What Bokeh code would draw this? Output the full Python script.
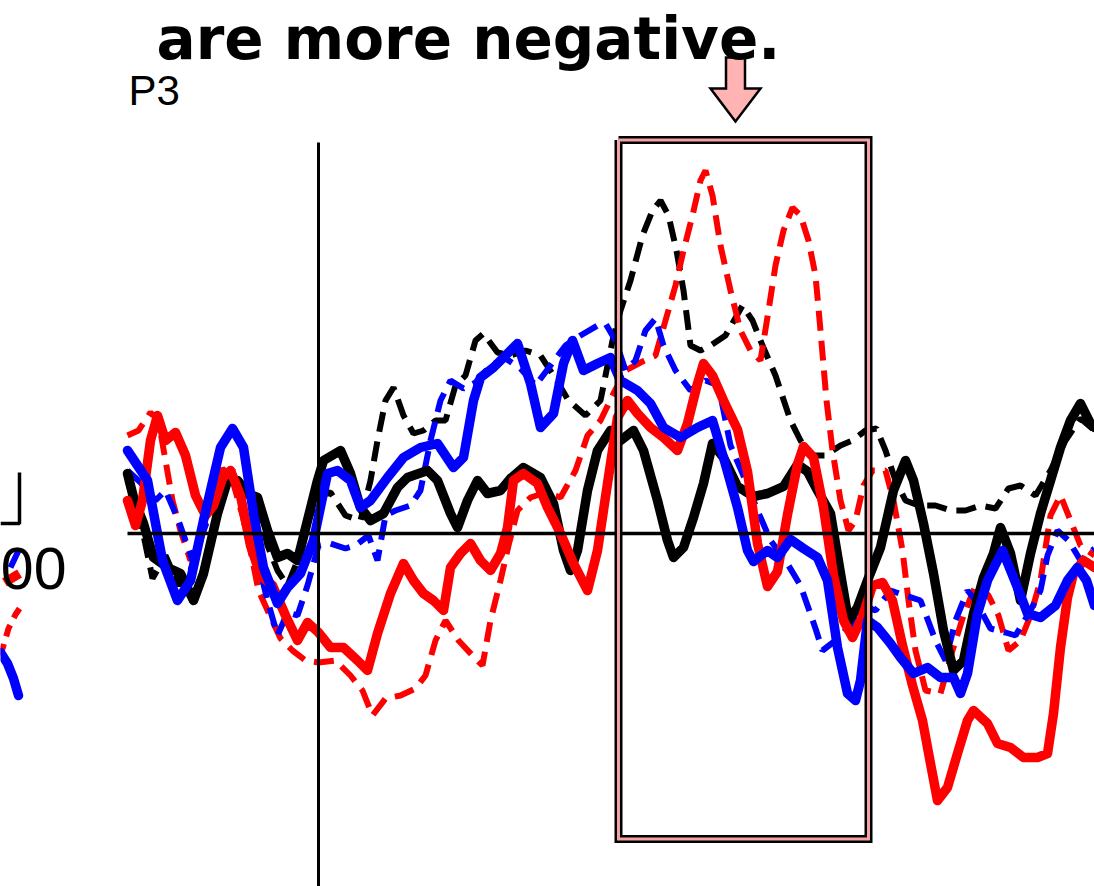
from bokeh.plotting import figure
from bokeh.models import Range1d, Label
from bokeh.embed import file_html
from bokeh.resources import INLINE

# ---------------------------------------------------------------
# Grand-average ERP at electrode P3, time in ms, amplitude in µV
# (negative is plotted upward)
# ---------------------------------------------------------------
t_black_solid = [-191, -185, -175, -165, -151, -138, -125, -115, -101, -91, -81, -71, -61, -51, -41, -31,
                 -21, -11, -1, 5, 22, 32, 42, 52, 65, 79, 89, 109, 119, 132, 139, 149, 159, 169, 182, 192,
                 205, 222, 235, 245, 252, 259, 269, 279, 292, 302, 315, 325, 339, 349, 355, 365, 375, 385,
                 394, 405, 419, 435, 449, 465, 479, 489, 499, 512, 522, 530, 539, 549, 562, 575, 587, 595,
                 605, 615, 625, 635, 645, 655, 665, 675, 682, 692, 702, 712, 722, 732, 742, 752, 762, 772, 776]
uv_black_solid = [-1.20, -0.72, -0.20, 0.48, 0.68, 0.80, 1.34, 0.80, -0.40, -1.06, -1.06, -0.80, -0.72, -0.06,
                  0.48, 0.40, 0.54, -0.26, -1.06, -1.46, -1.66, -1.20, -0.52, -0.26, -0.40, -0.92, -1.12,
                  -1.26, -1.06, -0.40, -0.12, -0.66, -1.06, -0.80, -0.86, -1.10, -1.32, -1.12, -0.60, 0.34,
                  0.74, 0.34, -0.86, -1.66, -2.06, -1.86, -2.06, -1.66, -0.66, 0.14, 0.48, 0.28, -0.32, -1.00,
                  -1.80, -1.52, -0.94, -0.74, -0.80, -0.94, -1.38, -1.24, -0.86, -0.40, 0.80, 1.74, 1.48, 0.94,
                  0.28, -0.86, -1.46, -1.06, -0.20, 0.80, 1.94, 2.74, 2.54, 1.60, 0.88, 0.40, -0.12, 0.40, 1.34,
                  0.40, -0.40, -1.06, -1.72, -2.26, -2.60, -2.20, -2.12]

t_black_dash = [-191, -178, -166, -153, -140, -128, -113, -98, -86, -73, -61, -51, -41, -31, -21, -10, 0, 12,
                27, 42, 52, 59, 67, 75, 85, 95, 105, 117, 127, 137, 147, 157, 165, 179, 192, 207, 222, 237,
                250, 267, 282, 294, 302, 312, 324, 334, 342, 350, 358, 365, 372, 382, 392, 407, 424, 434, 444,
                457, 472, 482, 492, 507, 522, 534, 547, 558, 567, 577, 587, 600, 617, 632, 647, 662, 677, 690,
                702, 717, 732, 747, 762, 776]
uv_black_dash = [-1.06, -0.26, 0.90, 0.44, 1.04, 0.74, -0.26, -0.76, -1.26, -0.80, -0.56, 0.24, 0.74, 1.04,
                 0.54, -0.26, -0.76, -0.82, -0.36, -0.26, -1.06, -1.86, -2.66, -2.92, -2.36, -2.00, -2.06,
                 -2.26, -2.26, -2.96, -3.16, -3.86, -4.00, -3.62, -3.56, -3.66, -3.56, -3.10, -2.66, -2.36,
                 -2.66, -3.86, -4.46, -5.06, -5.96, -6.46, -6.66, -6.36, -5.66, -4.86, -3.76, -3.66, -3.76,
                 -3.96, -4.56, -4.26, -3.76, -3.16, -2.26, -1.86, -1.56, -1.56, -1.76, -1.86, -2.06, -2.10,
                 -1.66, -1.06, -0.66, -0.56, -0.56, -0.46, -0.46, -0.56, -0.50, -0.90, -0.96, -0.76, -1.26,
                 -1.86, -2.30, -2.06]

t_red_solid = [-191, -183, -176, -168, -161, -153, -143, -133, -123, -113, -105, -96, -88, -78, -68, -58, -46,
               -33, -21, -11, 0, 12, 25, 39, 49, 59, 72, 85, 95, 105, 115, 125, 132, 142, 152, 162, 172, 182,
               189, 195, 205, 219, 229, 242, 255, 269, 279, 289, 299, 309, 319, 332, 345, 359, 369, 379, 385,
               394, 405, 419, 429, 439, 449, 459, 469, 479, 485, 495, 505, 515, 525, 534, 544, 554, 564, 574,
               584, 594, 604, 612, 619, 629, 639, 649, 655, 669, 679, 692, 705, 719, 729, 735, 742, 749, 755,
               765, 776]
uv_red_solid = [-0.66, -0.16, -0.66, -1.86, -2.36, -1.86, -2.02, -1.56, -0.76, -0.36, -0.56, -1.10, -1.26,
                -0.76, 0.24, 0.84, 1.04, 1.64, 2.14, 1.78, 1.98, 2.28, 2.28, 2.54, 2.74, 2.00, 1.20, 0.60, 0.94,
                1.20, 1.34, 1.54, 0.68, 0.40, 0.20, 0.54, 0.74, 0.40, -0.12, -1.06, -1.20, -1.00, -0.52, 0.00,
                0.60, 1.14, 0.34, -1.00, -2.32, -2.66, -2.40, -2.12, -1.92, -1.66, -2.20, -3.00, -3.40, -3.16,
                -2.66, -2.08, -1.24, 0.20, 1.06, 0.76, -0.38, -1.38, -1.74, -1.52, -0.52, 0.84, 1.74, 2.08,
                1.66, 1.04, 0.98, 1.34, 2.24, 3.04, 3.74, 4.60, 5.34, 5.08, 4.40, 3.74, 3.54, 3.80, 4.20, 4.28,
                4.48, 4.48, 4.40, 3.60, 2.28, 1.28, 0.80, 0.54, 0.68]

t_red_dash = [-191, -180, -168, -160, -153, -146, -138, -128, -118, -106, -96, -86, -76, -68, -60, -50, -38,
              -26, -13, 0, 17, 32, 44, 54, 67, 82, 97, 107, 117, 127, 140, 154, 164, 172, 182, 190, 199, 212,
              227, 242, 257, 269, 282, 294, 307, 322, 337, 347, 357, 365, 374, 382, 387, 394, 402, 412, 422,
              432, 442, 450, 457, 465, 474, 482, 490, 497, 502, 508, 514, 522, 530, 537, 545, 554, 567, 575,
              584, 590, 597, 607, 622, 634, 645, 657, 670, 680, 690, 702, 712, 722, 732, 742, 752, 762, 776]
uv_red_dash = [-1.96, -2.06, -2.42, -2.26, -1.46, -0.66, -0.06, 0.54, 0.14, -0.66, -1.30, -1.06, -0.36, 0.34,
               1.14, 1.58, 2.10, 2.34, 2.54, 2.58, 2.54, 2.84, 3.14, 3.64, 3.30, 3.24, 3.10, 2.84, 2.14, 1.74,
               2.14, 2.44, 2.64, 1.74, 0.94, 0.24, -0.46, -0.72, -0.82, -0.72, -1.26, -1.96, -2.26, -2.76,
               -3.26, -3.42, -3.56, -4.26, -4.96, -5.66, -6.36, -7.06, -7.26, -6.76, -5.76, -4.86, -4.06,
               -3.66, -3.46, -4.46, -5.36, -6.06, -6.52, -6.36, -5.86, -5.16, -4.06, -2.66, -1.66, -0.66,
               -0.06, -0.26, -0.96, -1.26, -1.26, -0.66, 0.34, 1.34, 2.34, 3.14, 3.20, 2.34, 1.64, 1.04, 1.24,
               1.64, 2.34, 2.14, 1.64, 0.94, -0.36, -0.76, -0.26, 0.24, 0.44]

t_blue_solid = [-191, -171, -156, -141, -128, -115, -98, -86, -75, -65, -55, -41, -31, -18, -5, 9, 19, 32, 42,
                52, 69, 85, 102, 119, 135, 145, 155, 162, 175, 189, 199, 212, 222, 235, 245, 254, 265, 279,
                292, 302, 319, 332, 345, 362, 379, 394, 405, 419, 429, 435, 449, 459, 472, 485, 499, 509, 519,
                529, 537, 542, 549, 559, 572, 582, 595, 609, 622, 635, 642, 649, 659, 669, 684, 699, 709, 722,
                737, 749, 759, 768, 776]
uv_blue_solid = [-1.66, -1.06, 0.54, 1.34, 0.94, -0.26, -1.72, -2.10, -1.72, -0.40, 0.68, 1.40, 1.08, 0.80,
                 0.14, -1.20, -1.26, -1.06, -0.52, -0.66, -1.12, -1.52, -1.72, -1.80, -1.32, -1.52, -2.66,
                 -3.12, -3.32, -3.60, -3.80, -3.00, -2.12, -2.40, -3.40, -3.86, -3.26, -3.40, -3.52, -3.06,
                 -2.86, -2.60, -2.12, -1.92, -2.12, -2.26, -1.52, -0.52, 0.34, 0.56, 0.34, 0.48, 0.12, 0.30,
                 0.48, 0.94, 2.28, 3.20, 3.34, 2.94, 1.74, 1.88, 2.20, 2.48, 2.80, 2.68, 2.88, 2.88, 3.20, 2.80,
                 1.60, 0.94, 0.34, 1.08, 1.60, 1.68, 1.44, 0.94, 0.68, 0.94, 1.44]

t_blue_dash = [-191, -178, -163, -153, -140, -126, -113, -98, -83, -71, -61, -51, -41, -31, -21, -11, 0, 12,
               27, 37, 50, 59, 67, 77, 92, 102, 112, 122, 132, 145, 157, 172, 187, 202, 217, 232, 247, 262,
               279, 287, 297, 307, 317, 327, 337, 345, 357, 372, 387, 400, 412, 427, 439, 452, 467, 482, 489,
               497, 504, 517, 532, 544, 557, 572, 587, 602, 617, 627, 637, 649, 657, 672, 687, 697, 712, 722,
               729, 739, 750, 762, 776]
uv_blue_dash = [-1.26, -1.02, -0.66, -0.86, -0.26, 0.54, -0.16, -1.06, -1.02, -0.26, 0.54, 1.34, 2.04, 1.58,
                1.64, 1.04, 0.24, 0.20, 0.30, 0.24, 0.04, 0.54, -0.36, -0.46, -0.56, -0.86, -1.86, -2.66,
                -3.06, -2.90, -3.02, -3.36, -3.50, -3.30, -2.96, -3.36, -3.76, -3.96, -4.16, -4.20, -3.86,
                -3.26, -3.46, -4.06, -4.30, -3.76, -3.26, -2.86, -3.06, -2.96, -1.76, -1.06, -0.46, 0.14,
                0.54, 1.04, 1.44, 1.90, 2.34, 2.14, 1.84, 1.44, 1.54, 1.14, 1.24, 1.34, 2.14, 2.54, 1.74,
                1.14, 1.34, 1.90, 1.98, 2.04, 1.54, 1.14, 0.44, -0.06, 0.14, 0.54, 0.30]

# traces of the neighbouring electrode panel, cut by the left edge
t_left_blue = [-318, -311, -305, -300]
uv_left_blue = [2.38, 2.60, 2.90, 3.24]
t_left_red_dash = [-318, -310, -303, -299]
uv_left_red_dash = [2.44, 1.90, 1.62, 1.50]
t_left_blue_dash = [-308, -299]
uv_left_blue_dash = [0.68, 0.30]
t_left_red = [-314, -299]
uv_left_red = [0.98, 0.80]

epoch = (-191, 776)            # plotted epoch, ms
window = (300, 550)            # analysis window, ms
window_uv = (-7.87, 6.11)      # vertical extent of the window frame, µV
scale_bar_uv = (-1.22, -0.2)   # calibration bar of the neighbouring panel
scale_bar_t = (-318, -299)

W, H = 1094, 886
PX_PER_UV = 50.0
x_range = Range1d(-318, 776)
y_range = Range1d((H - 533) / PX_PER_UV, -533 / PX_PER_UV)   # negative up

p = figure(width=W, height=H, x_range=x_range, y_range=y_range,
           x_axis_type=None, y_axis_type=None, toolbar_location=None,
           output_backend="svg", min_border=0, outline_line_color=None,
           background_fill_color="white", border_fill_color="white")

THICK = 9.5
THIN = 6
DASH = "20 10"

# dashed conditions first, solid conditions on top
p.line(t_black_dash, uv_black_dash, line_color="black", line_width=THIN, line_dash=DASH)
p.line(t_red_dash, uv_red_dash, line_color="#ff0000", line_width=THIN, line_dash=DASH)
p.line(t_blue_dash, uv_blue_dash, line_color="#0000ff", line_width=THIN, line_dash=DASH)
p.line(t_black_solid, uv_black_solid, line_color="black", line_width=THICK, line_join="round", line_cap="round")
p.line(t_red_solid, uv_red_solid, line_color="#ff0000", line_width=THICK, line_join="round", line_cap="round")
p.line(t_blue_solid, uv_blue_solid, line_color="#0000ff", line_width=THICK, line_join="round", line_cap="round")

p.line(t_left_red_dash, uv_left_red_dash, line_color="#ff0000", line_width=THIN, line_dash="12 8")
p.line(t_left_blue_dash, uv_left_blue_dash, line_color="#0000ff", line_width=THIN)
p.line(t_left_red, uv_left_red, line_color="#ff0000", line_width=THICK)
p.line(t_left_blue, uv_left_blue, line_color="#0000ff", line_width=THICK, line_cap="round")

# axes of the P3 panel
p.line(list(epoch), [0, 0], line_color="black", line_width=3.5)
p.line([0, 0], [window_uv[0] + 0.05, y_range.start], line_color="black", line_width=3)

# calibration bar of the neighbouring panel
p.line([scale_bar_t[1], scale_bar_t[1], scale_bar_t[0]],
       [scale_bar_uv[0], scale_bar_uv[1], scale_bar_uv[1]], line_color="black", line_width=3.5)

# analysis window frame: black border with a pink inner stroke
wx = [window[0], window[1], window[1], window[0], window[0]]
wy = [window_uv[0], window_uv[0], window_uv[1], window_uv[1], window_uv[0]]
p.line(wx, wy, line_color="black", line_width=8, line_join="miter")
p.line(wx, wy, line_color="#f4a3a3", line_width=3, line_join="miter")

# block arrow pointing at the window
tip_t, tip_uv = 417, -8.24
head_len, shaft_len = 33 / PX_PER_UV, 31 / PX_PER_UV
head_w, shaft_w = 25, 9.5
ax = [tip_t, tip_t - head_w, tip_t - shaft_w, tip_t - shaft_w, tip_t + shaft_w, tip_t + shaft_w, tip_t + head_w]
ay = [tip_uv, tip_uv - head_len, tip_uv - head_len, tip_uv - head_len - shaft_len,
      tip_uv - head_len - shaft_len, tip_uv - head_len, tip_uv - head_len]
p.patch(ax, ay, fill_color="#ffb3b3", line_color="black", line_width=2.5, line_join="miter")

# texts
p.add_layout(Label(x=156, y=H - 38, x_units="screen", y_units="screen", text="are more negative.",
                   text_font="DejaVu Sans", text_font_style="bold", text_font_size="58px",
                   text_color="black", text_baseline="alphabetic"))
p.add_layout(Label(x=128, y=H - 90, x_units="screen", y_units="screen", text="P3",
                   text_font="Liberation Sans", text_font_size="42px",
                   text_color="black", text_baseline="alphabetic"))
p.add_layout(Label(x=66, y=H - 568, x_units="screen", y_units="screen", text="00",
                   text_font="Liberation Sans", text_font_size="59px", text_align="right",
                   text_color="black", text_baseline="alphabetic"))

open("out.html", "w").write(file_html(p, INLINE))
